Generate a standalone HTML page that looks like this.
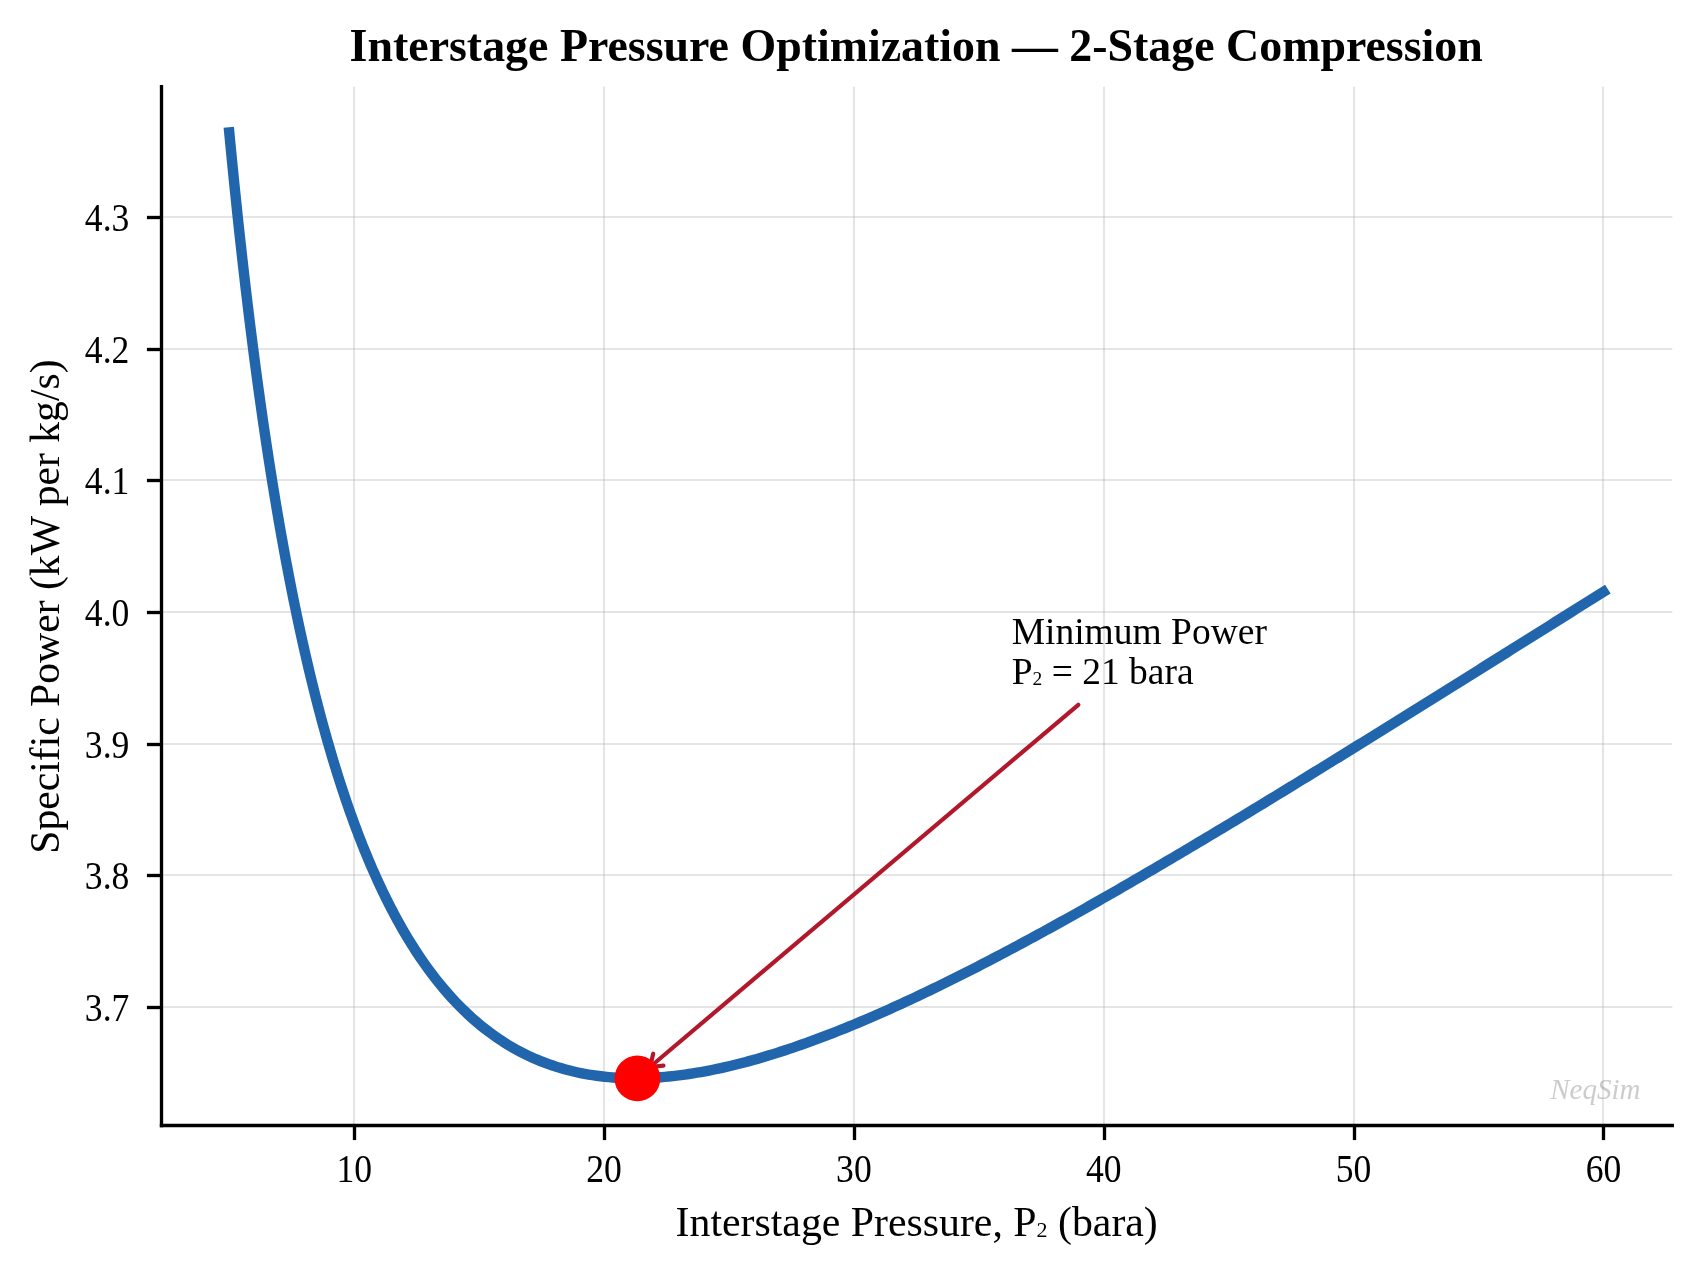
<!DOCTYPE html>
<html><head><meta charset="utf-8"><style>html,body{margin:0;padding:0;background:#fff;}svg{display:block;will-change:transform;}</style></head><body>
<svg xmlns="http://www.w3.org/2000/svg" width="1702" height="1274" viewBox="0 0 1702 1274">
<rect width="1702" height="1274" fill="#fff"/>
<g stroke="#b0b0b0" stroke-opacity="0.33" stroke-width="2.08"><line x1="354" y1="86.7" x2="354" y2="1125.5"/><line x1="604" y1="86.7" x2="604" y2="1125.5"/><line x1="854" y1="86.7" x2="854" y2="1125.5"/><line x1="1104" y1="86.7" x2="1104" y2="1125.5"/><line x1="1354" y1="86.7" x2="1354" y2="1125.5"/><line x1="1603" y1="86.7" x2="1603" y2="1125.5"/><line x1="161.5" y1="217" x2="1672.3" y2="217"/><line x1="161.5" y1="349" x2="1672.3" y2="349"/><line x1="161.5" y1="480" x2="1672.3" y2="480"/><line x1="161.5" y1="612" x2="1672.3" y2="612"/><line x1="161.5" y1="744" x2="1672.3" y2="744"/><line x1="161.5" y1="875" x2="1672.3" y2="875"/><line x1="161.5" y1="1007" x2="1672.3" y2="1007"/></g>
<text x="1640.5" y="1098.8" text-anchor="end" font-family='"Liberation Serif", serif' font-style="italic" font-size="29.0" fill="#808080" fill-opacity="0.4">NeqSim</text>
<polyline points="229.27,132.51 230.15,141.73 231.03,150.85 231.91,159.85 232.79,168.75 233.67,177.55 234.55,186.24 235.43,194.83 236.31,203.32 237.18,211.71 238.06,220.01 238.94,228.21 239.82,236.32 240.70,244.34 241.58,252.27 242.46,260.10 243.34,267.85 244.22,275.52 245.09,283.10 245.97,290.59 246.85,298.01 247.73,305.34 248.61,312.59 249.49,319.77 250.37,326.86 251.25,333.88 252.13,340.83 253.00,347.70 253.88,354.50 254.76,361.23 255.64,367.88 256.52,374.47 257.40,380.98 258.28,387.43 259.16,393.81 260.04,400.13 260.91,406.38 261.79,412.57 262.67,418.69 263.55,424.75 264.43,430.75 265.31,436.69 266.19,442.57 267.07,448.39 267.95,454.15 268.82,459.85 269.70,465.50 270.58,471.09 271.46,476.63 272.34,482.11 273.22,487.53 274.10,492.91 274.98,498.23 275.86,503.50 276.73,508.72 277.61,513.88 278.49,519.00 279.37,524.07 280.25,529.09 281.13,534.06 282.01,538.99 282.89,543.87 283.76,548.70 284.64,553.48 285.52,558.22 286.40,562.92 287.28,567.57 288.16,572.18 289.04,576.75 289.92,581.27 290.80,585.75 291.67,590.19 292.55,594.59 293.43,598.95 294.31,603.27 295.19,607.54 296.07,611.78 296.95,615.98 297.83,620.15 298.71,624.27 299.58,628.36 300.46,632.41 301.34,636.42 302.22,640.40 303.10,644.34 303.98,648.25 304.86,652.12 305.74,655.96 306.62,659.76 307.49,663.53 308.37,667.27 309.25,670.97 310.13,674.64 311.01,678.28 311.89,681.89 312.77,685.46 313.65,689.00 314.53,692.52 315.40,696.00 316.28,699.45 317.16,702.87 318.04,706.26 318.92,709.62 319.80,712.96 320.68,716.26 321.56,719.54 322.44,722.79 323.31,726.01 324.19,729.20 325.07,732.36 325.95,735.50 326.83,738.61 327.71,741.70 328.59,744.76 329.47,747.79 330.34,750.80 331.22,753.78 332.10,756.73 332.98,759.66 333.86,762.57 334.74,765.45 335.62,768.31 336.50,771.14 337.38,773.95 338.25,776.74 339.13,779.50 340.01,782.24 340.89,784.96 341.77,787.66 342.65,790.33 343.53,792.98 344.41,795.61 345.29,798.21 346.16,800.80 347.04,803.36 347.92,805.90 348.80,808.42 349.68,810.93 350.56,813.40 351.44,815.86 352.32,818.30 353.20,820.72 354.07,823.12 354.95,825.50 355.83,827.86 356.71,830.20 357.59,832.52 358.47,834.83 359.35,837.11 360.23,839.38 361.11,841.62 361.98,843.85 362.86,846.06 363.74,848.25 364.62,850.43 365.50,852.58 366.38,854.72 367.26,856.85 368.14,858.95 369.02,861.04 369.89,863.11 370.77,865.16 371.65,867.20 372.53,869.22 373.41,871.23 374.29,873.21 375.17,875.19 376.05,877.14 376.93,879.08 377.80,881.01 378.68,882.92 379.56,884.81 380.44,886.69 381.32,888.55 382.20,890.40 383.08,892.24 383.96,894.06 384.83,895.86 385.71,897.65 386.59,899.42 387.47,901.19 388.35,902.93 389.23,904.67 390.11,906.38 390.99,908.09 391.87,909.78 392.74,911.46 393.62,913.12 394.50,914.77 395.38,916.41 396.26,918.04 397.14,919.65 398.02,921.24 398.90,922.83 399.78,924.40 400.65,925.96 401.53,927.51 402.41,929.05 403.29,930.57 404.17,932.08 408.18,938.82 412.19,945.31 416.20,951.57 420.21,957.60 424.22,963.41 428.24,969.01 432.25,974.39 436.26,979.58 440.27,984.58 444.28,989.39 448.29,994.02 452.30,998.47 456.31,1002.75 460.32,1006.87 464.33,1010.83 468.35,1014.63 472.36,1018.28 476.37,1021.79 480.38,1025.15 484.39,1028.38 488.40,1031.47 492.41,1034.43 496.42,1037.27 500.43,1039.99 504.44,1042.58 508.46,1045.06 512.47,1047.43 516.48,1049.69 520.49,1051.84 524.50,1053.89 528.51,1055.83 532.52,1057.68 536.53,1059.44 540.54,1061.09 544.55,1062.66 548.56,1064.14 552.58,1065.54 556.59,1066.85 560.60,1068.08 564.61,1069.22 568.62,1070.30 572.63,1071.29 576.64,1072.21 580.65,1073.06 584.66,1073.84 588.67,1074.55 592.69,1075.19 596.70,1075.76 600.71,1076.28 604.72,1076.73 608.73,1077.11 612.74,1077.44 616.75,1077.71 620.76,1077.93 624.77,1078.09 628.78,1078.19 632.80,1078.24 636.81,1078.24 640.82,1078.19 644.83,1078.09 648.84,1077.94 652.85,1077.74 656.86,1077.50 660.87,1077.21 664.88,1076.88 668.89,1076.50 672.90,1076.08 676.92,1075.62 680.93,1075.12 684.94,1074.58 688.95,1074.00 692.96,1073.38 696.97,1072.72 700.98,1072.03 704.99,1071.30 709.00,1070.54 713.01,1069.74 717.03,1068.91 721.04,1068.05 725.05,1067.15 729.06,1066.23 733.07,1065.27 737.08,1064.28 741.09,1063.26 745.10,1062.21 749.11,1061.14 753.12,1060.03 757.14,1058.90 761.15,1057.74 765.16,1056.56 769.17,1055.35 773.18,1054.11 777.19,1052.85 781.20,1051.56 785.21,1050.25 789.22,1048.92 793.23,1047.57 797.25,1046.19 801.26,1044.79 805.27,1043.37 809.28,1041.92 813.29,1040.46 817.30,1038.98 821.31,1037.47 825.32,1035.95 829.33,1034.40 833.34,1032.84 837.35,1031.26 841.37,1029.66 845.38,1028.05 849.39,1026.41 853.40,1024.76 857.41,1023.09 861.42,1021.41 865.43,1019.70 869.44,1017.99 873.45,1016.25 877.46,1014.50 881.48,1012.74 885.49,1010.96 889.50,1009.17 893.51,1007.36 897.52,1005.54 901.53,1003.70 905.54,1001.86 909.55,999.99 913.56,998.12 917.57,996.23 921.59,994.33 925.60,992.42 929.61,990.49 933.62,988.56 937.63,986.61 941.64,984.65 945.65,982.68 949.66,980.69 953.67,978.70 957.68,976.70 961.69,974.68 965.71,972.66 969.72,970.62 973.73,968.58 977.74,966.52 981.75,964.46 985.76,962.38 989.77,960.30 993.78,958.21 997.79,956.11 1001.80,954.00 1005.82,951.88 1009.83,949.75 1013.84,947.62 1017.85,945.48 1021.86,943.33 1025.87,941.17 1029.88,939.00 1033.89,936.83 1037.90,934.64 1041.91,932.46 1045.93,930.26 1049.94,928.06 1053.95,925.85 1057.96,923.63 1061.97,921.41 1065.98,919.18 1069.99,916.94 1074.00,914.70 1078.01,912.45 1082.02,910.19 1086.03,907.93 1090.05,905.66 1094.06,903.39 1098.07,901.11 1102.08,898.83 1106.09,896.54 1110.10,894.25 1114.11,891.95 1118.12,889.64 1122.13,887.33 1126.14,885.02 1130.16,882.70 1134.17,880.37 1138.18,878.04 1142.19,875.71 1146.20,873.37 1150.21,871.03 1154.22,868.68 1158.23,866.33 1162.24,863.97 1166.25,861.61 1170.27,859.25 1174.28,856.88 1178.29,854.51 1182.30,852.13 1186.31,849.75 1190.32,847.37 1194.33,844.99 1198.34,842.60 1202.35,840.20 1206.36,837.80 1210.37,835.40 1214.39,833.00 1218.40,830.59 1222.41,828.19 1226.42,825.77 1230.43,823.36 1234.44,820.94 1238.45,818.52 1242.46,816.09 1246.47,813.67 1250.48,811.24 1254.50,808.80 1258.51,806.37 1262.52,803.93 1266.53,801.49 1270.54,799.05 1274.55,796.60 1278.56,794.16 1282.57,791.71 1286.58,789.26 1290.59,786.80 1294.61,784.35 1298.62,781.89 1302.63,779.43 1306.64,776.97 1310.65,774.50 1314.66,772.04 1318.67,769.57 1322.68,767.10 1326.69,764.63 1330.70,762.16 1334.72,759.68 1338.73,757.21 1342.74,754.73 1346.75,752.25 1350.76,749.77 1354.77,747.29 1358.78,744.80 1362.79,742.32 1366.80,739.83 1370.81,737.34 1374.82,734.85 1378.84,732.36 1382.85,729.87 1386.86,727.38 1390.87,724.89 1394.88,722.39 1398.89,719.90 1402.90,717.40 1406.91,714.90 1410.92,712.40 1414.93,709.90 1418.95,707.40 1422.96,704.90 1426.97,702.40 1430.98,699.89 1434.99,697.39 1439.00,694.88 1443.01,692.38 1447.02,689.87 1451.03,687.37 1455.04,684.86 1459.06,682.35 1463.07,679.84 1467.08,677.33 1471.09,674.82 1475.10,672.31 1479.11,669.80 1483.12,667.29 1487.13,664.78 1491.14,662.26 1495.15,659.75 1499.16,657.24 1503.18,654.72 1507.19,652.21 1511.20,649.69 1515.21,647.18 1519.22,644.67 1523.23,642.15 1527.24,639.63 1531.25,637.12 1535.26,634.60 1539.27,632.09 1543.29,629.57 1547.30,627.06 1551.31,624.54 1555.32,622.02 1559.33,619.51 1563.34,616.99 1567.35,614.47 1571.36,611.96 1575.37,609.44 1579.38,606.92 1583.40,604.41 1587.41,601.89 1591.42,599.38 1595.43,596.86 1599.44,594.34 1603.45,591.83" fill="none" stroke="#2166ac" stroke-width="10.42" stroke-linecap="square" stroke-linejoin="round"/>
<line x1="1078.3" y1="704.8" x2="650.0" y2="1067.0" stroke="#b2182b" stroke-width="4.17" stroke-linecap="round"/>
<polyline points="653.2,1053.7 650.0,1067.0 663.5,1065.7" fill="none" stroke="#b2182b" stroke-width="4.17" stroke-linecap="round" stroke-linejoin="round"/>
<circle cx="637.4" cy="1078.4" r="22.9" fill="#ff0000"/>
<line x1="161.5" y1="85.035" x2="161.5" y2="1127.165" stroke="#000" stroke-width="3.33"/>
<line x1="159.835" y1="1125.5" x2="1673.965" y2="1125.5" stroke="#000" stroke-width="3.33"/>
<line x1="354.5" y1="1125.5" x2="354.5" y2="1140.08" stroke="#000" stroke-width="3.33"/>
<text transform="translate(354.20,1182) scale(0.95,1.07)" text-anchor="middle" font-family='"Liberation Serif", serif' font-size="37.5">10</text>
<line x1="604.5" y1="1125.5" x2="604.5" y2="1140.08" stroke="#000" stroke-width="3.33"/>
<text transform="translate(604.05,1182) scale(0.95,1.07)" text-anchor="middle" font-family='"Liberation Serif", serif' font-size="37.5">20</text>
<line x1="854.5" y1="1125.5" x2="854.5" y2="1140.08" stroke="#000" stroke-width="3.33"/>
<text transform="translate(853.90,1182) scale(0.95,1.07)" text-anchor="middle" font-family='"Liberation Serif", serif' font-size="37.5">30</text>
<line x1="1104.5" y1="1125.5" x2="1104.5" y2="1140.08" stroke="#000" stroke-width="3.33"/>
<text transform="translate(1103.75,1182) scale(0.95,1.07)" text-anchor="middle" font-family='"Liberation Serif", serif' font-size="37.5">40</text>
<line x1="1354.5" y1="1125.5" x2="1354.5" y2="1140.08" stroke="#000" stroke-width="3.33"/>
<text transform="translate(1353.60,1182) scale(0.95,1.07)" text-anchor="middle" font-family='"Liberation Serif", serif' font-size="37.5">50</text>
<line x1="1603.5" y1="1125.5" x2="1603.5" y2="1140.08" stroke="#000" stroke-width="3.33"/>
<text transform="translate(1603.45,1182) scale(0.95,1.07)" text-anchor="middle" font-family='"Liberation Serif", serif' font-size="37.5">60</text>
<line x1="161.5" y1="217.5" x2="146.92" y2="217.5" stroke="#000" stroke-width="3.33"/>
<text transform="translate(129.4,231.00) scale(0.95,1.07)" text-anchor="end" font-family='"Liberation Serif", serif' font-size="37.5">4.3</text>
<line x1="161.5" y1="349.5" x2="146.92" y2="349.5" stroke="#000" stroke-width="3.33"/>
<text transform="translate(129.4,362.67) scale(0.95,1.07)" text-anchor="end" font-family='"Liberation Serif", serif' font-size="37.5">4.2</text>
<line x1="161.5" y1="480.5" x2="146.92" y2="480.5" stroke="#000" stroke-width="3.33"/>
<text transform="translate(129.4,494.34) scale(0.95,1.07)" text-anchor="end" font-family='"Liberation Serif", serif' font-size="37.5">4.1</text>
<line x1="161.5" y1="612.5" x2="146.92" y2="612.5" stroke="#000" stroke-width="3.33"/>
<text transform="translate(129.4,626.01) scale(0.95,1.07)" text-anchor="end" font-family='"Liberation Serif", serif' font-size="37.5">4.0</text>
<line x1="161.5" y1="744.5" x2="146.92" y2="744.5" stroke="#000" stroke-width="3.33"/>
<text transform="translate(129.4,757.68) scale(0.95,1.07)" text-anchor="end" font-family='"Liberation Serif", serif' font-size="37.5">3.9</text>
<line x1="161.5" y1="875.5" x2="146.92" y2="875.5" stroke="#000" stroke-width="3.33"/>
<text transform="translate(129.4,889.35) scale(0.95,1.07)" text-anchor="end" font-family='"Liberation Serif", serif' font-size="37.5">3.8</text>
<line x1="161.5" y1="1007.5" x2="146.92" y2="1007.5" stroke="#000" stroke-width="3.33"/>
<text transform="translate(129.4,1021.02) scale(0.95,1.07)" text-anchor="end" font-family='"Liberation Serif", serif' font-size="37.5">3.7</text>
<text x="916.2" y="60.8" text-anchor="middle" font-family='"Liberation Serif", serif' font-weight="bold" font-size="45.9">Interstage Pressure Optimization — 2-Stage Compression</text>
<text x="916.7" y="1235.8" text-anchor="middle" font-family='"Liberation Serif", serif' font-size="41.8">Interstage Pressure, P<tspan font-size="22" dy="1">2</tspan><tspan dy="-1"> (bara)</tspan></text>
<text transform="translate(58.6,606.6) rotate(-90)" x="0" y="0" text-anchor="middle" font-family='"Liberation Serif", serif' font-size="41.67">Specific Power (kW per kg/s)</text>
<text x="1011.7" y="644.0" font-family='"Liberation Serif", serif' font-size="37.5">Minimum Power</text>
<text x="1011.7" y="683.7" font-family='"Liberation Serif", serif' font-size="37.5">P<tspan font-size="19.5" dy="1">2</tspan><tspan dy="-1"> = 21 bara</tspan></text>
</svg>
</body></html>
